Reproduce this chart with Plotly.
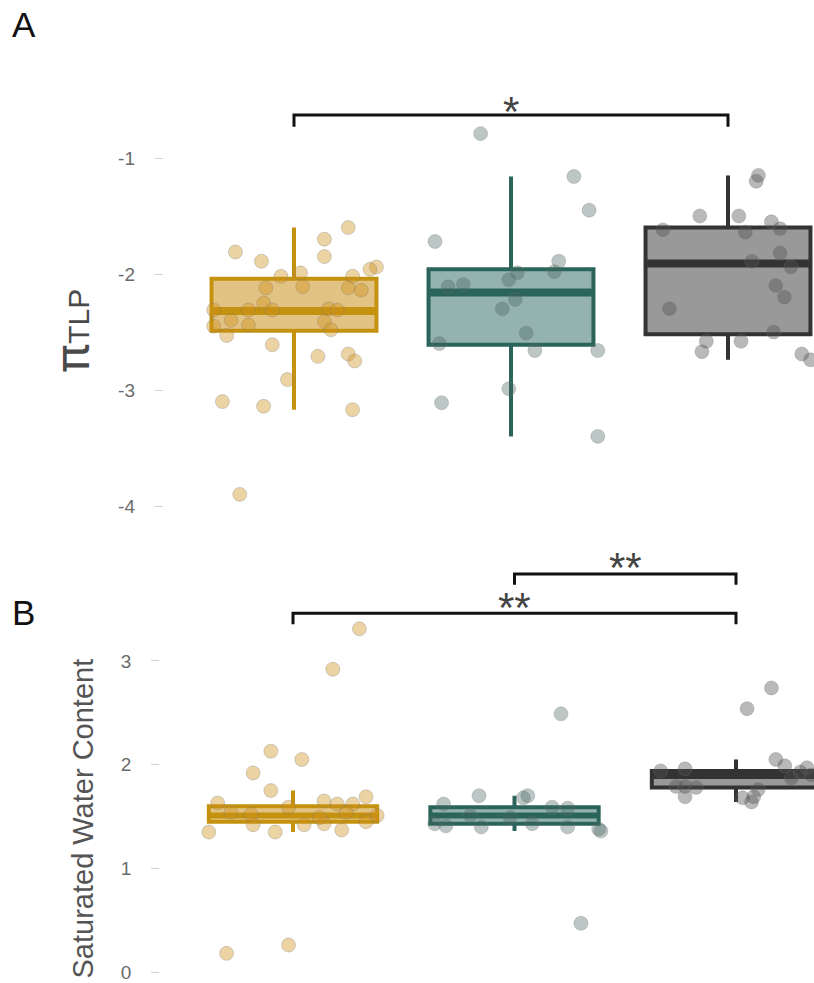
import plotly.graph_objects as go

W, H = 814, 983
FONT = "Liberation Sans, Arial, sans-serif"

# ---- group styling (three groups, left to right) ----
line_colors = ["#c4920f", "#2a645b", "#333333"]
fill_colors = ["#e3c384", "#94b3af", "#999999"]
point_colors = ["rgba(207,145,28,0.40)", "rgba(70,100,95,0.36)", "rgba(80,80,80,0.40)"]
box_width = 0.76

# ---- panel A: turgor loss point ----
tlp_ticks = [-4, -3, -2, -1]
tlp_ticktext = ["-4", "-3", "-2", "-1"]
tlp_q1 = [-2.49, -2.61, -2.52]
tlp_median = [-2.32, -2.16, -1.91]
tlp_q3 = [-2.04, -1.96, -1.60]
tlp_lower = [-3.17, -3.40, -2.74]
tlp_upper = [-1.60, -1.16, -1.15]

tlp_g1 = [-1.60, -1.70, -1.81, -1.85, -1.89, -1.94, -1.96, -2.02, -1.99, -2.02,
          -2.12, -2.11, -2.12, -2.14, -2.25, -2.31, -2.31, -2.31, -2.30, -2.31,
          -2.40, -2.44, -2.45, -2.41, -2.48, -2.53, -2.61, -2.71, -2.69, -2.75,
          -2.91, -3.10, -3.14, -3.17, -3.90]
tlp_g1_dx = [0.25, 0.14, -0.27, 0.14, -0.15, 0.38, 0.35, -0.06, 0.03, 0.27,
             -0.13, 0.04, 0.25, 0.31, -0.14, -0.21, -0.10, -0.37, 0.16, 0.20,
             -0.29, -0.21, -0.37, 0.14, 0.17, -0.31, -0.10, 0.11, 0.25, 0.28,
             -0.03, -0.33, -0.14, 0.27, -0.25]
tlp_g2 = [-0.79, -1.16, -1.45, -1.72, -1.89, -1.98, -1.99, -2.05, -2.11, -2.09,
          -2.22, -2.30, -2.51, -2.60, -2.66, -2.66, -2.99, -3.11, -3.40]
tlp_g2_dx = [-0.14, 0.29, 0.36, -0.35, 0.22, 0.20, 0.03, -0.01, -0.29, -0.22,
             0.02, -0.04, 0.07, -0.33, 0.11, 0.40, -0.01, -0.32, 0.40]
tlp_g3 = [-1.15, -1.20, -1.50, -1.50, -1.55, -1.61, -1.62, -1.64, -1.82, -1.89,
          -1.94, -2.10, -2.20, -2.30, -2.50, -2.58, -2.58, -2.67, -2.69, -2.74]
tlp_g3_dx = [0.14, 0.13, -0.13, 0.05, 0.20, 0.24, -0.30, 0.08, 0.24, 0.11,
             0.29, 0.22, 0.26, -0.27, 0.21, -0.10, 0.06, -0.12, 0.34, 0.38]
tlp_pairs = [(0, 2, -0.63, "*")]

# ---- panel B: saturated water content ----
swc_ticks = [0, 1, 2, 3]
swc_ticktext = ["0", "1", "2", "3"]
swc_q1 = [1.45, 1.43, 1.78]
swc_median = [1.51, 1.51, 1.89]
swc_q3 = [1.60, 1.59, 1.94]
swc_lower = [1.35, 1.36, 1.64]
swc_upper = [1.75, 1.70, 2.05]

swc_g1 = [3.31, 2.92, 2.13, 2.05, 1.92, 1.75, 1.69, 1.63, 1.65, 1.62,
          1.62, 1.59, 1.35, 1.42, 1.35, 1.42, 1.43, 1.37, 1.45, 1.51,
          0.18, 0.26, 1.54, 1.49, 1.52, 1.54]
swc_g1_dx = [0.30, 0.18, -0.10, 0.04, -0.18, -0.10, 0.33, -0.34, 0.14, 0.20,
             0.27, -0.02, -0.38, -0.18, -0.08, 0.05, 0.14, 0.22, 0.33, 0.38,
             -0.30, -0.02, -0.28, 0.12, -0.19, 0.24]
swc_g2 = [2.49, 0.47, 1.70, 1.70, 1.68, 1.62, 1.59, 1.58, 1.43, 1.41,
          1.40, 1.43, 1.40, 1.38, 1.36, 1.51, 1.49]
swc_g2_dx = [0.21, 0.30, -0.16, 0.06, 0.04, -0.32, 0.17, 0.24, -0.36, -0.31,
             -0.15, 0.08, 0.24, 0.38, 0.39, -0.20, -0.02]
swc_g3 = [2.74, 2.54, 2.05, 1.99, 1.97, 1.96, 1.94, 1.79, 1.79, 1.78,
          1.69, 1.76, 1.69, 1.68, 1.64, 1.87, 1.93, 1.90]
swc_g3_dx = [0.16, 0.05, 0.18, 0.22, 0.32, -0.23, -0.34, -0.27, -0.23, -0.18,
             -0.23, 0.10, 0.08, 0.03, 0.07, 0.25, 0.29, 0.34]
swc_pairs = [(1, 2, 3.84, "**"), (0, 2, 3.46, "**")]

fig = go.Figure()


def add_panel(xa, ya, q1, med, q3, lo, hi, pts, dxs, median_w):
    for i in range(3):
        fig.add_trace(go.Box(
            x=[i], q1=[q1[i]], median=[med[i]], q3=[q3[i]],
            lowerfence=[lo[i]], upperfence=[hi[i]],
            width=box_width, whiskerwidth=0, boxpoints=False,
            fillcolor=fill_colors[i], line=dict(color=line_colors[i], width=4),
            xaxis=xa, yaxis=ya, showlegend=False, hoverinfo="skip"))
    for i in range(3):
        # heavier median bar across the box
        fig.add_trace(go.Scatter(
            x=[i - box_width / 2, i + box_width / 2], y=[med[i], med[i]],
            mode="lines", line=dict(color=line_colors[i], width=median_w),
            xaxis=xa, yaxis=ya, showlegend=False, hoverinfo="skip"))
    for i in range(3):
        fig.add_trace(go.Scatter(
            x=[i + d for d in dxs[i]], y=pts[i], mode="markers",
            marker=dict(size=14, color=point_colors[i],
                        line=dict(width=1, color="rgba(120,120,120,0.30)")),
            xaxis=xa, yaxis=ya, showlegend=False, hoverinfo="skip"))


add_panel("x", "y", tlp_q1, tlp_median, tlp_q3, tlp_lower, tlp_upper,
          [tlp_g1, tlp_g2, tlp_g3], [tlp_g1_dx, tlp_g2_dx, tlp_g3_dx], 8)
add_panel("x2", "y2", swc_q1, swc_median, swc_q3, swc_lower, swc_upper,
          [swc_g1, swc_g2, swc_g3], [swc_g1_dx, swc_g2_dx, swc_g3_dx], 6)


def add_brackets(xr, yr, pairs, drop, shift):
    for a, b, yv, label in pairs:
        fig.add_shape(type="path", xref=xr, yref=yr,
                      path=f"M {a},{yv - drop} L {a},{yv} L {b},{yv} L {b},{yv - drop}",
                      line=dict(color="#111111", width=3))
        fig.add_annotation(x=(a + b) / 2, y=yv, xref=xr, yref=yr, text=label,
                           showarrow=False, yanchor="middle", yshift=shift,
                           font=dict(family=FONT, size=42, color="#444444"))


add_brackets("x", "y", tlp_pairs, 0.10, 4)
add_brackets("x2", "y2", swc_pairs, 0.105, 6)

axis_common = dict(showgrid=False, zeroline=False, showline=False)
ytick_common = dict(ticks="outside", ticklen=8, tickwidth=1, tickcolor="#d0d0d0",
                    ticklabelstandoff=16,
                    tickfont=dict(family=FONT, size=19, color="#6b6b6b"))

fig.update_layout(
    width=W, height=H, margin=dict(l=0, r=0, t=0, b=0),
    paper_bgcolor="white", plot_bgcolor="white",
    font=dict(family=FONT),
    xaxis=dict(domain=[163.8 / W, 1.0], range=[-0.6, (W - 294) / 217],
               showticklabels=False, ticks="", anchor="y", **axis_common),
    yaxis=dict(domain=[1 - 529.2 / H, 1 - 65.2 / H], range=[-4.2, -0.2],
               tickmode="array", tickvals=tlp_ticks, ticktext=tlp_ticktext,
               anchor="x", **axis_common, **ytick_common),
    xaxis2=dict(domain=[160.1 / W, 1.0], range=[-0.6, (W - 293) / 221.5],
                showticklabels=False, ticks="", anchor="y2", **axis_common),
    yaxis2=dict(domain=[1 - 982.4 / H, 1 - 557.3 / H], range=[-0.1, 4.0],
                tickmode="array", tickvals=swc_ticks, ticktext=swc_ticktext,
                anchor="x2", **axis_common, **ytick_common),
)

# panel letters
fig.add_annotation(x=10 / W, y=1 - 3 / H, xref="paper", yref="paper", text="A",
                   showarrow=False, xanchor="left", yanchor="top",
                   font=dict(family=FONT, size=35, color="#111111"))
fig.add_annotation(x=10 / W, y=1 - 591 / H, xref="paper", yref="paper", text="B",
                   showarrow=False, xanchor="left", yanchor="top",
                   font=dict(family=FONT, size=35, color="#111111"))

# axis titles
fig.add_annotation(x=72 / W, y=1 - 330.5 / H, xref="paper", yref="paper",
                   text=('<span style="font-family:Roboto;font-size:48px">π</span>'
                         '<span style="font-size:30px">TLP</span>'),
                   showarrow=False, textangle=-90, xanchor="center", yanchor="middle",
                   font=dict(family=FONT, size=30, color="#4a4a4a"))
fig.add_annotation(x=82 / W, y=1 - 818.5 / H, xref="paper", yref="paper",
                   text="Saturated Water Content",
                   showarrow=False, textangle=-90, xanchor="center", yanchor="middle",
                   font=dict(family=FONT, size=29, color="#555555"))

fig.write_html("out.html")
